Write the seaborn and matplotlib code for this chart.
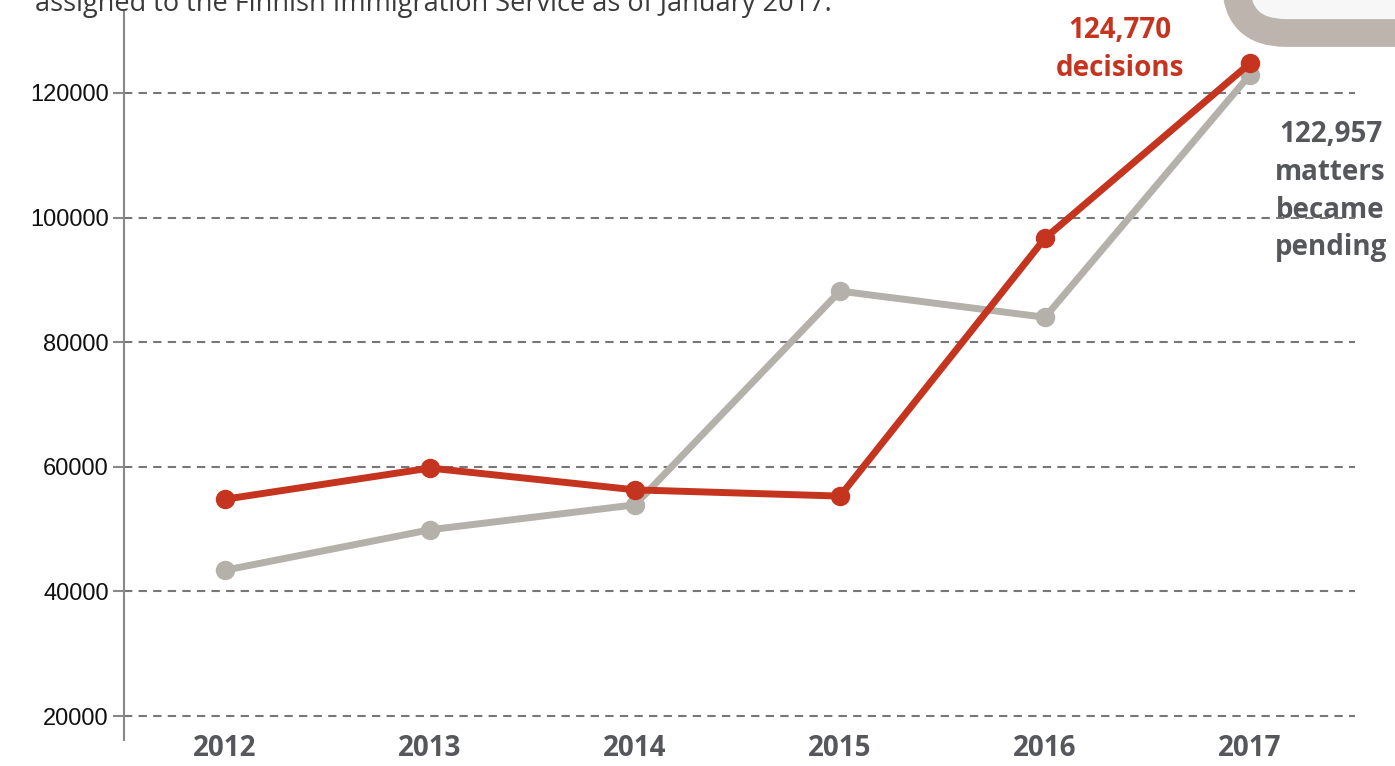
import numpy as np
import pandas as pd
import seaborn as sns
import matplotlib.pyplot as plt
from matplotlib.patches import FancyBboxPatch

# data
years = [2012, 2013, 2014, 2015, 2016, 2017]
decisions = [54800, 59800, 56300, 55300, 96700, 124770]
pending = [43400, 49900, 53900, 88200, 84000, 122957]
y_ticks = [20000, 40000, 60000, 80000, 100000, 120000]

df = pd.DataFrame({
    'year': years * 2,
    'value': pending + decisions,
    'series': ['pending'] * len(years) + ['decisions'] * len(years),
})

red = '#c5341f'
grey_line = '#b4b1aa'
text_grey = '#55575b'

sns.set_style('white')
plt.rcParams['font.family'] = ['Open Sans', 'DejaVu Sans']

fig = plt.figure(figsize=(13.95, 7.66), dpi=100)
ax = fig.add_axes([124 / 1395, 26 / 766, 1231 / 1395, 728 / 766])

sns.lineplot(data=df, x='year', y='value', hue='series',
             palette={'pending': grey_line, 'decisions': red},
             marker='o', markersize=14, markeredgewidth=0,
             linewidth=5, legend=False, ax=ax, zorder=3)

ax.set_xlim(2011.507, 2017.512)
ax.set_ylim(16150, 133000)
ax.set_yticks(y_ticks)
ax.set_yticklabels([str(v) for v in y_ticks], family='Liberation Sans', fontsize=17, color='#111111')
ax.set_xticks(years)
ax.set_xticklabels([str(y) for y in years], fontsize=20, fontweight='bold', color=text_grey)
ax.tick_params(axis='x', length=0, pad=-4)
ax.tick_params(axis='y', length=8, width=1.5, color='#888888', pad=3, direction='out', left=True)
ax.set_xlabel('')
ax.set_ylabel('')

for v in y_ticks:
    ax.axhline(v, color='#777777', lw=1.5, ls=(0, (4, 3)), zorder=1)

for side in ['top', 'right', 'bottom']:
    ax.spines[side].set_visible(False)
ax.spines['left'].set_color('#888888')
ax.spines['left'].set_linewidth(1.5)

ax.annotate('124,770\ndecisions', xy=(years[-1], decisions[-1]), xytext=(-94, 10),
            textcoords='offset points', ha='center', va='center',
            fontsize=20, fontweight='bold', color=red, linespacing=1.38,
            annotation_clip=False)
ax.annotate('122,957\nmatters\nbecame\npending', xy=(years[-1], pending[-1]), xytext=(58, -84),
            textcoords='offset points', ha='center', va='center',
            fontsize=20, fontweight='bold', color=text_grey, linespacing=1.4,
            annotation_clip=False, zorder=0)

# clipped subtitle at the top
fig.text(35 / 1395, 1 - 11 / 766, 'assigned to the Finnish Immigration Service as of January 2017.',
         fontsize=19.5, color='#3a3a3a', va='baseline')

# corner of the info box at top right
box = FancyBboxPatch((12.36, 7.33), 3.0, 2.0, boxstyle='round,pad=0,rounding_size=0.5',
                     transform=fig.dpi_scale_trans, facecolor='#f7f7f7',
                     edgecolor='#bdb5ad', linewidth=20)
fig.add_artist(box)

fig.savefig('out.png', dpi=100)
